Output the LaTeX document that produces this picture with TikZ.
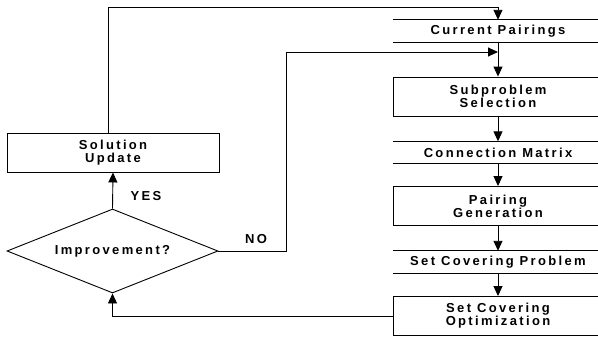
\documentclass[tikz,border=0pt]{standalone}
\usepackage{fontspec}
\newfontfamily\flowfont{Liberation Sans}[LetterSpace=18]
\usepackage{tikz}
\usetikzlibrary{shapes.geometric,arrows.meta,positioning}

\begin{document}
\begin{tikzpicture}[
  x=1pt, y=-1pt,
  step box/.style={draw, line width=0.9pt, minimum width=210pt, minimum height=39pt,
    align=center, font=\flowfont\bfseries\fontsize{13}{13}\selectfont, inner sep=0pt},
  store/.style={minimum width=210pt, minimum height=22pt,
    font=\flowfont\bfseries\fontsize{13}{13}\selectfont, inner sep=0pt},
  flow/.style={line width=0.9pt, -{Triangle[length=10pt,width=9pt]}},
  tag/.style={font=\flowfont\bfseries\fontsize{13}{13}\selectfont}
]
  \useasboundingbox (0,0) rectangle (598,338);

  % Main chain on the right
  \node[store] (cur) at (498,31) {Current Pairings};
  \node[step box] (sub) at (498,96.5) {Subproblem\\Selection};
  \node[store] (mat) at (498,152.5) {Connection Matrix};
  \node[step box] (gen) at (498,206) {Pairing\\Generation};
  \node[store] (scp) at (498,262) {Set Covering Problem};
  \node[step box] (opt) at (498,316) {Set Covering\\Optimization};

  % Decision loop on the left
  \node[step box, minimum width=212pt] (upd) at (113,152.5) {Solution\\Update};
  \node[diamond, aspect=2.5, draw, line width=0.9pt, minimum width=211pt, minimum height=84pt,
    inner sep=0pt, font=\flowfont\bfseries\fontsize{13}{13}\selectfont] (dec) at (112.5,251) {Improvement?};

  \coordinate (topbend) at (498,7);
  \coordinate (nobend) at (286,52);
  \coordinate (join) at (498,52);

  % Store lines
  \foreach \n in {cur,mat,scp}
    \draw[line width=0.9pt] (\n.north west) -- (\n.north east)
      (\n.south west) -- (\n.south east);

  % Arrows
  \draw[flow] (cur) -- (sub);
  \draw[flow] (sub) -- (mat);
  \draw[flow] (mat) -- (gen);
  \draw[flow] (gen) -- (scp);
  \draw[flow] (scp) -- (opt);
  \draw[flow] (opt.west) -| (dec.south);
  \draw[flow] (dec.north) -- (upd.south);
  \draw[flow] ([xshift=-5pt]upd.north) |- (topbend) -- (cur.north);
  \draw[flow] (dec.east) -| (nobend) -- (join);

  \node[tag] (yes) at (146,196) {YES};
  \node[tag] (no) at (256,239) {NO};
\end{tikzpicture}
\end{document}
